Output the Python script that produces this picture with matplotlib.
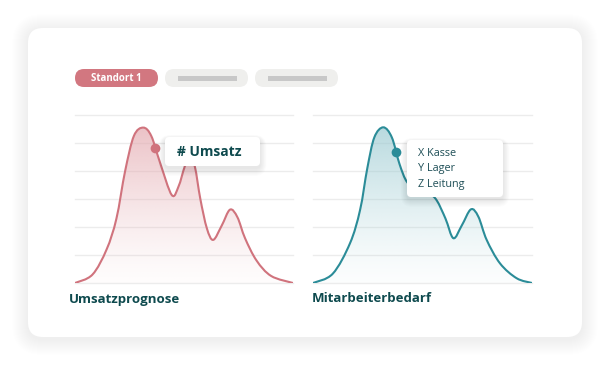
import numpy as np
import matplotlib
matplotlib.use("Agg")
import matplotlib.pyplot as plt
from matplotlib.patches import FancyBboxPatch, PathPatch
from matplotlib.path import Path

# ---------------- data ----------------
umsatz_x = [0, 8.0, 14.5, 19.0, 23.0, 27.0, 31.3, 35.0, 39.0, 44.4, 47.5, 50.3, 52.7,
            55.0, 57.5, 60.5, 63.4, 67.3, 71.1, 74.5, 78.0, 83.3, 90.0, 100]
umsatz_y = [0, 0.30, 1.20, 2.30, 4.00, 5.25, 5.55, 5.25, 4.30, 3.14, 3.45, 4.15, 4.55,
            4.15, 3.00, 1.95, 1.54, 2.05, 2.62, 2.35, 1.60, 0.80, 0.25, 0]
umsatz_marker = (36.7, 4.82)

personal_x = [0, 9.0, 16.9, 21.5, 24.8, 28.0, 32.1, 36.0, 39.5, 43.0, 48.0, 53.0, 56.5,
              60.5, 64.1, 67.9, 72.1, 75.5, 79.3, 85.4, 93.0, 100]
personal_y = [0, 0.33, 1.42, 2.61, 4.10, 5.20, 5.56, 5.20, 4.25, 3.60, 3.35, 3.20, 2.95,
              2.30, 1.60, 2.05, 2.63, 2.37, 1.54, 0.70, 0.17, 0]
personal_marker = (37.9, 4.68)

grid_levels = [0, 1, 2, 3, 4, 5, 6]
chart_titles = ["Umsatzprognose", "Mitarbeiterbedarf"]
pill_label = "Standort 1"
tooltip_left = "# Umsatz"
tooltip_right = ["X Kasse", "Y Lager", "Z Leitung"]

# ---------------- style ----------------
W, H = 610, 365
ROSE = "#d0737d"
ROSE_FILL = "#e4aab0"
TEAL = "#2b8c98"
TEAL_FILL = "#9ccbd2"
DARK = "#0e4a4e"
FONT = "Open Sans"

fig = plt.figure(figsize=(W / 100, H / 100), dpi=100)
fig.patch.set_facecolor("white")

bg = fig.add_axes([0, 0, 1, 1], zorder=0)
bg.set_xlim(0, W)
bg.set_ylim(H, 0)
bg.axis("off")


def rbox(ax, x0, y0, x1, y1, r, fc, ec="none", alpha=1.0, z=1, lw=0):
    p = FancyBboxPatch((x0, y0), x1 - x0, y1 - y0,
                       boxstyle=f"round,pad=0,rounding_size={r}",
                       fc=fc, ec=ec, alpha=alpha, zorder=z, lw=lw)
    ax.add_patch(p)
    return p


# card shadow
for i in range(16, 0, -1):
    rbox(bg, 28 - i, 28 - i + 2, 582 + i, 337 + i + 2, 15 + i, "#000000", alpha=0.0035, z=1)
rbox(bg, 28, 28, 582, 337, 15, "white", z=2)

# pills
rbox(bg, 75, 69, 158, 87, 9, "#d27780", z=3)
bg.text(116.5, 78.3, pill_label, color="white", fontsize=7, fontweight="bold",
        ha="center", va="center", family=FONT, zorder=4)
for x0, x1 in [(165, 248), (255, 338)]:
    rbox(bg, x0, 69, x1, 87, 9, "#efefed", z=3)
    bg.add_patch(plt.Rectangle((x0 + 12.5, 75.5), 59, 5.5, fc="#c8c8c8", ec="none", zorder=4))


def bezier_path(xs, ys):
    pts = np.column_stack([xs, ys]).astype(float)
    n = len(pts)
    verts = [pts[0]]
    codes = [Path.MOVETO]
    for i in range(n - 1):
        p0 = pts[i - 1] if i > 0 else pts[i]
        p1 = pts[i]
        p2 = pts[i + 1]
        p3 = pts[i + 2] if i + 2 < n else pts[i + 1]
        c1 = p1 + (p2 - p0) / 6.0
        c2 = p2 - (p3 - p1) / 6.0
        verts += [c1, c2, p2]
        codes += [Path.CURVE4] * 3
    return verts, codes


def draw_chart(rect_px, xs, ys, marker, line_c, fill_c, title, title_x):
    x0, y0, x1, y1 = rect_px
    ax = fig.add_axes([x0 / W, 1 - y1 / H, (x1 - x0) / W, (y1 - y0) / H], zorder=2)
    ax.set_xlim(0, 100)
    ax.set_ylim(0, 6)
    ax.patch.set_alpha(0)
    for s in ax.spines.values():
        s.set_visible(False)
    ax.set_xticks([])
    ax.set_yticks([])
    for g in grid_levels:
        ax.axhline(g, color="#ececec", lw=1.0, zorder=1, clip_on=False)

    verts, codes = bezier_path(xs, ys)
    fverts = verts + [(xs[-1], 0), (xs[0], 0), (xs[0], 0)]
    fcodes = codes + [Path.LINETO, Path.LINETO, Path.CLOSEPOLY]
    clip = PathPatch(Path(fverts, fcodes), fc="none", ec="none")
    ax.add_patch(clip)
    rgb = matplotlib.colors.to_rgb(fill_c)
    t = np.linspace(0, 1, 256)[:, None]
    img = np.zeros((256, 2, 4))
    img[..., 0] = rgb[0]
    img[..., 1] = rgb[1]
    img[..., 2] = rgb[2]
    img[..., 3] = (0.03 + 0.75 * t ** 1.3)
    im = ax.imshow(img, extent=[0, 100, 0, 6], origin="lower", aspect="auto",
                   interpolation="bilinear", zorder=2)
    im.set_clip_path(clip)

    ax.add_patch(PathPatch(Path(verts, codes), fc="none", ec=line_c, lw=1.5,
                           zorder=3, capstyle="round"))
    ax.plot([marker[0]], [marker[1]], "o", color=line_c, ms=7, zorder=4, mec="none")

    bg.text(title_x, 299, title, color=DARK, fontsize=9.5, fontweight="bold",
            ha="left", va="center", family=FONT, zorder=5)
    return ax


draw_chart((75, 115, 293, 283), umsatz_x, umsatz_y, umsatz_marker, ROSE, ROSE_FILL,
           chart_titles[0], 69)
draw_chart((313, 115, 532, 283), personal_x, personal_y, personal_marker, TEAL, TEAL_FILL,
           chart_titles[1], 312)

top = fig.add_axes([0, 0, 1, 1], zorder=6)
top.set_xlim(0, W)
top.set_ylim(H, 0)
top.axis("off")


def tooltip(x0, y0, x1, y1):
    for i in range(8, 0, -1):
        rbox(top, x0 - i * 0.8, y0 - i * 0.5 + 2, x1 + i * 0.8, y1 + i + 2, 4 + i,
             "#000000", alpha=0.01, z=1)
    rbox(top, x0, y0, x1, y1, 4, "white", z=2)


tooltip(165, 137, 260, 166)
top.text(177, 152.5, tooltip_left, color=DARK, fontsize=10, fontweight="bold",
         ha="left", va="center", family=FONT, zorder=3)

tooltip(407, 140, 503, 197)
for i, s in enumerate(tooltip_right):
    top.text(418, 154 + i * 15, s, color="#1f4f57", fontsize=7.8,
             ha="left", va="center", family=FONT, zorder=3)

fig.savefig("out.png", dpi=100, facecolor="white")
